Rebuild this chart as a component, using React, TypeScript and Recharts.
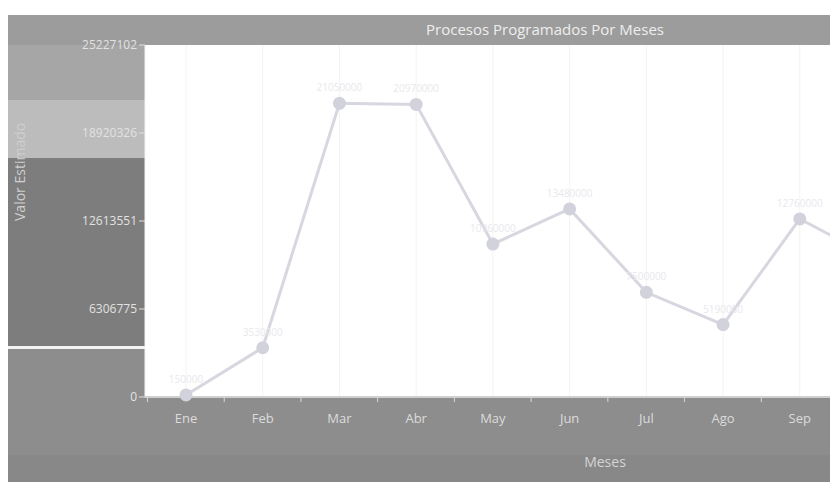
import { LineChart, Line, XAxis, YAxis, CartesianGrid, LabelList } from 'recharts';

const months = ['Ene', 'Feb', 'Mar', 'Abr', 'May', 'Jun', 'Jul', 'Ago', 'Sep', 'Oct'];
const valores = [150000, 3530000, 21050000, 20970000, 10960000, 13480000, 7500000, 5190000, 12760000, 9870000];
const yTicks = [0, 6306775, 12613551, 18920326, 25227102];

const data = months.map((mes, i) => ({ mes, valor: valores[i] }));

const font = '"Open Sans", "DejaVu Sans", sans-serif';

function MonthTick({ x, y, payload }: any) {
  return (
    <g>
      <line x1={x - 38.5} y1={y - 8} x2={x - 38.5} y2={y - 3} stroke="#d8d8d8" />
      <text x={x} y={y + 18} textAnchor="middle" fill="#dcdcdc" fontSize={13} fontFamily={font}>
        {payload.value}
      </text>
    </g>
  );
}

export default function App() {
  return (
    <div style={{ position: 'absolute', left: 0, top: 0, width: 830, height: 482, overflow: 'hidden', background: '#ffffff' }}>
      {/* scanned gray frame */}
      <div style={{ position: 'absolute', left: 8, top: 15, width: 822, height: 467, background: '#8d8d8d' }} />
      <div style={{ position: 'absolute', left: 8, top: 15, width: 822, height: 30, background: '#9c9c9c' }} />
      <div style={{ position: 'absolute', left: 8, top: 45, width: 137, height: 55, background: '#a6a6a6' }} />
      <div style={{ position: 'absolute', left: 8, top: 100, width: 137, height: 58, background: '#bcbcbc' }} />
      <div style={{ position: 'absolute', left: 8, top: 158, width: 137, height: 188, background: '#7d7d7d' }} />
      <div style={{ position: 'absolute', left: 8, top: 346, width: 137, height: 3, background: '#f4f4f4' }} />
      <div style={{ position: 'absolute', left: 8, top: 455, width: 822, height: 27, background: '#888888' }} />
      <div style={{ position: 'absolute', left: 0, top: 15, width: 545 * 2, textAlign: 'center', lineHeight: '28px', fontSize: 15, color: '#eeeeee', fontFamily: font }}>
        Procesos Programados Por Meses
      </div>
      <div style={{ position: 'absolute', left: 0, top: 452, width: 605 * 2, textAlign: 'center', fontSize: 14, color: '#d4d4d4', fontFamily: font }}>
        Meses
      </div>
      <div style={{ position: 'absolute', left: 0, top: 0 }}>
        <LineChart width={915} height={482} data={data} margin={{ top: 45, right: 0, bottom: 0, left: 8 }}>
          <CartesianGrid fill="#ffffff" stroke="#f3f3f3" horizontal={false} />
          <XAxis
            dataKey="mes"
            height={85}
            padding={{ left: 41, right: 38.5 }}
            tick={<MonthTick />}
            tickLine={false}
            axisLine={{ stroke: '#cfcfcf', strokeWidth: 2 }}
            interval={0}
          />
          <YAxis
            width={137}
            domain={[0, 25227102]}
            ticks={yTicks}
            interval={0}
            axisLine={false}
            tickLine={{ stroke: '#e0e0e0' }}
            tick={{ fill: '#e2e2e2', fontSize: 12, fontFamily: font }}
            label={{ value: 'Valor Estimado', angle: -90, position: 'insideLeft', offset: 12, fill: '#cfcfcf', fontSize: 14, fontFamily: font }}
          />
          <Line
            type="linear"
            dataKey="valor"
            stroke="#d7d7e0"
            strokeWidth={3}
            dot={{ r: 5, fill: '#d2d2dc', stroke: '#d2d2dc' }}
            isAnimationActive={false}
          >
            <LabelList dataKey="valor" position="top" offset={12} fill="#e8e8ec" fontSize={10} fontFamily={font} />
          </Line>
        </LineChart>
      </div>
    </div>
  );
}
